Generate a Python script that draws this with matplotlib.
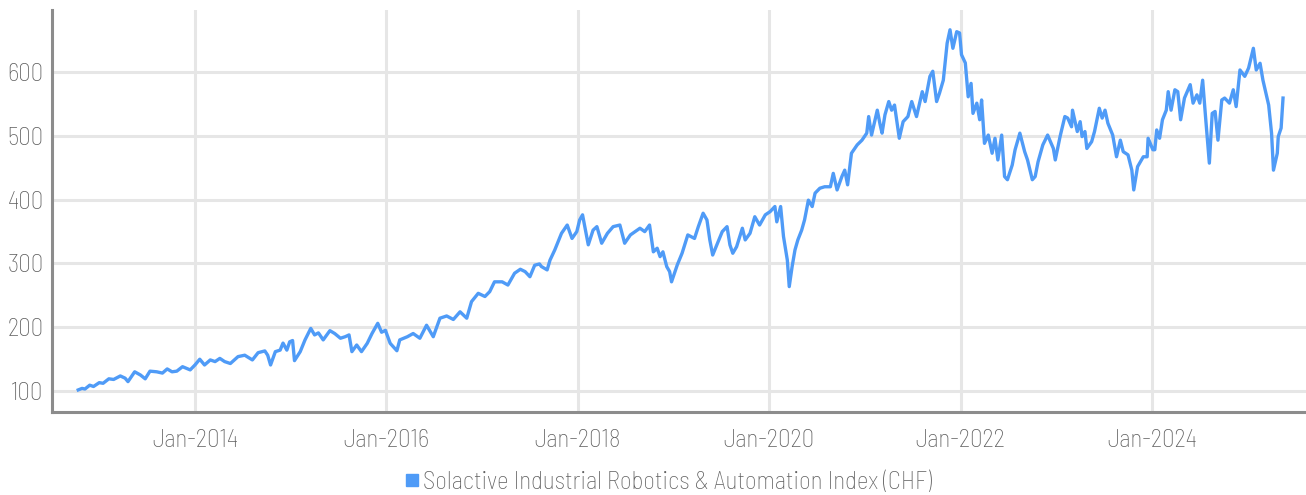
import matplotlib
matplotlib.use("Agg")
import matplotlib.pyplot as plt
from matplotlib import font_manager as fm
from matplotlib.lines import Line2D

# ---------------- data ----------------
years = [
    2012.78, 2012.82, 2012.85, 2012.90, 2012.94, 2013.00, 2013.04, 2013.10, 2013.15, 2013.22,
    2013.27, 2013.30,
    2013.37, 2013.43, 2013.48, 2013.53, 2013.60, 2013.66, 2013.71, 2013.76, 2013.81, 2013.87,
    2013.95, 2014.00, 2014.05, 2014.10, 2014.16, 2014.21, 2014.26, 2014.31, 2014.37, 2014.45,
    2014.52, 2014.60, 2014.66, 2014.73, 2014.76, 2014.79, 2014.84, 2014.89, 2014.92, 2014.96,
    2014.99, 2015.02, 2015.04, 2015.10, 2015.15, 2015.21, 2015.25, 2015.29, 2015.34, 2015.41,
    2015.46, 2015.52, 2015.57, 2015.61, 2015.64, 2015.69, 2015.74, 2015.80, 2015.85, 2015.91,
    2015.95, 2015.99, 2016.04, 2016.11, 2016.14, 2016.22, 2016.28, 2016.35, 2016.42, 2016.49,
    2016.56, 2016.63, 2016.70, 2016.77, 2016.84, 2016.89, 2016.96, 2017.03, 2017.08, 2017.13,
    2017.21, 2017.27, 2017.34, 2017.40, 2017.45, 2017.50, 2017.55, 2017.60, 2017.62, 2017.68,
    2017.71, 2017.76, 2017.83, 2017.89, 2017.94, 2017.99, 2018.02, 2018.05, 2018.11, 2018.16,
    2018.20, 2018.25, 2018.31, 2018.37, 2018.44, 2018.49, 2018.55, 2018.60, 2018.65, 2018.70,
    2018.75, 2018.79, 2018.83, 2018.86, 2018.89, 2018.93, 2018.96, 2018.98, 2019.04, 2019.09,
    2019.15, 2019.22, 2019.26, 2019.31, 2019.35, 2019.38, 2019.41, 2019.46, 2019.51, 2019.56,
    2019.59, 2019.62, 2019.66, 2019.72, 2019.75, 2019.80, 2019.85, 2019.90, 2019.96, 2020.01,
    2020.06, 2020.08, 2020.12, 2020.15, 2020.19, 2020.21, 2020.24, 2020.27, 2020.30, 2020.34,
    2020.37, 2020.41, 2020.45, 2020.48, 2020.53, 2020.58, 2020.64, 2020.67, 2020.71, 2020.76,
    2020.79, 2020.82, 2020.86, 2020.92, 2020.97, 2021.02, 2021.04, 2021.07, 2021.13, 2021.16,
    2021.18, 2021.21, 2021.25, 2021.28, 2021.31, 2021.36, 2021.40, 2021.45, 2021.49, 2021.54,
    2021.60, 2021.63, 2021.68, 2021.71, 2021.75, 2021.78, 2021.82, 2021.86, 2021.89, 2021.92,
    2021.96, 2021.99, 2022.01, 2022.05, 2022.08, 2022.11, 2022.13, 2022.17, 2022.20, 2022.22,
    2022.25, 2022.29, 2022.33, 2022.36, 2022.39, 2022.43, 2022.46, 2022.49, 2022.54, 2022.57,
    2022.62, 2022.67, 2022.70, 2022.75, 2022.78, 2022.81, 2022.86, 2022.91, 2022.97, 2022.99,
    2023.04, 2023.09, 2023.12, 2023.16, 2023.17, 2023.22, 2023.25, 2023.27, 2023.30, 2023.32,
    2023.37, 2023.40, 2023.45, 2023.48, 2023.51, 2023.54, 2023.59, 2023.63, 2023.67, 2023.70,
    2023.75, 2023.79, 2023.81, 2023.85, 2023.91, 2023.95, 2023.96, 2024.01, 2024.03, 2024.05,
    2024.08, 2024.11, 2024.15, 2024.17, 2024.20, 2024.24, 2024.27, 2024.30, 2024.34, 2024.40,
    2024.43, 2024.47, 2024.50, 2024.53, 2024.56, 2024.60, 2024.63, 2024.66, 2024.69, 2024.73,
    2024.76, 2024.81, 2024.85, 2024.88, 2024.92, 2024.97, 2025.01, 2025.06, 2025.09, 2025.13,
    2025.16, 2025.20, 2025.22, 2025.25, 2025.27, 2025.31, 2025.32, 2025.35, 2025.37,
]
index_chf = [
    101.6, 104, 103, 109, 107, 113, 112, 119, 118, 123.5,
    120, 114.6,
    130, 125, 119, 131, 130, 128, 134.5, 130, 131, 138,
    133, 140.7, 149.7, 140.7, 148.6, 146, 151, 146, 143, 153.8,
    156, 148.6, 160, 162.7, 156, 140.7, 161.6, 164, 175, 164,
    177, 179, 147.5, 161.6, 180, 198, 187.8, 191, 180, 194.5,
    190, 182.6, 185, 187.8, 161.6, 172, 161.6, 174.6, 190, 206,
    192, 195, 174.6, 163, 180, 185, 190, 182.6, 203, 185,
    214, 217.5, 212, 224, 214, 240, 253, 248, 255.6, 271,
    271, 266, 284.5, 290.7, 287, 279, 297, 299, 295, 289.7,
    305, 321, 347, 360, 339, 349.7, 368, 376, 329, 352,
    357.5, 331.5, 347, 357.5, 360, 331.5, 344.5, 349.7, 355, 349.7,
    360, 318, 323.7, 310.5, 318, 294.8, 287, 271, 297.5, 315.8,
    344.5, 339, 357.5, 378.5, 368, 336.7, 313, 331.5, 349.7, 357.5,
    329, 315.8, 326, 355, 336.7, 347, 373, 360, 376, 381,
    389, 365, 389, 342, 305, 263.5, 294.8, 321, 336.7, 352,
    368, 399, 389, 410, 417.7, 420, 420, 441, 415, 436,
    446, 423, 472.5, 485.6, 493, 504, 530, 501, 540, 517,
    504, 532.6, 553.5, 540, 548, 496, 522, 530, 553.5, 530,
    569, 553.5, 593, 601, 553.5, 566.6, 587, 645, 666, 637,
    663, 661, 627, 614, 561, 582, 535, 551, 525, 556,
    488, 501, 472.5, 496, 462, 501, 436, 431, 454, 478,
    504, 475, 462, 431, 436, 459, 485.6, 501, 480, 462,
    498.6, 530, 527.6, 514, 540, 506.5, 522, 498.6, 506.5, 480,
    490.6, 506.5, 543, 527.6, 540, 519.5, 501, 467, 493, 475,
    470, 446, 415, 451.5, 467, 467, 496, 478, 478, 509,
    496, 525, 540, 569, 540, 572, 569, 525, 559, 580,
    551, 564, 551, 587, 530, 457, 535, 538, 493, 556,
    559, 551, 572, 545.6, 603, 593, 606, 637, 603, 613.5,
    587, 561, 548, 504, 446, 472.5, 498.6, 512, 559,
]
tick_years = [2014, 2016, 2018, 2020, 2022, 2024]
tick_labels = ["Jan-2014", "Jan-2016", "Jan-2018", "Jan-2020", "Jan-2022", "Jan-2024"]
y_ticks = [100, 200, 300, 400, 500, 600]
series_name = "Solactive Industrial Robotics & Automation Index (CHF)"

# ---------------- style ----------------
available = {f.name for f in fm.fontManager.ttflist}
font = "DejaVu Sans"
for cand in ["Barlow Semi Condensed", "Barlow", "Roboto Condensed"]:
    if cand in available:
        font = cand
        break
plt.rcParams["font.family"] = [font, "DejaVu Sans"]

LINE = "#4f9bf7"
GRID = "#e6e6e6"
SPINE = "#8c8c8c"
TXT = "#5f5f5f"

fig = plt.figure(figsize=(13.06, 4.95), dpi=100)
ax = fig.add_axes([52 / 1306, 1 - 412 / 495, 1 - 52 / 1306, (412 - 10) / 495])

ax.plot(years, index_chf, color=LINE, lw=2.4, solid_joinstyle="round", zorder=3)

ax.set_xlim(2012.506, 2025.61)
ax.set_ylim(67, 697)
ax.set_xticks(tick_years)
ax.set_xticklabels(tick_labels)
ax.set_yticks(y_ticks)
ax.grid(True, color=GRID, lw=2.2)
ax.set_axisbelow(True)

for s in ("top", "right"):
    ax.spines[s].set_visible(False)
for s in ("left", "bottom"):
    ax.spines[s].set_color(SPINE)
    ax.spines[s].set_linewidth(2.2)

ax.tick_params(axis="both", length=0, labelsize=18, labelcolor=TXT)
ax.tick_params(axis="x", pad=12)
ax.tick_params(axis="y", pad=6)
for lab in ax.get_xticklabels() + ax.get_yticklabels():
    lab.set_fontweight("light")

handle = Line2D([], [], marker="s", linestyle="none", markersize=8,
                markerfacecolor=LINE, markeredgecolor=LINE)
fig.legend([handle], [series_name], loc="center", bbox_to_anchor=(0.512, 1 - 482 / 495),
           frameon=False, handlelength=0.5, handletextpad=0.2, borderaxespad=0,
           prop={"size": 18, "weight": "light"}, labelcolor=TXT)

fig.savefig("out.png", dpi=100)
